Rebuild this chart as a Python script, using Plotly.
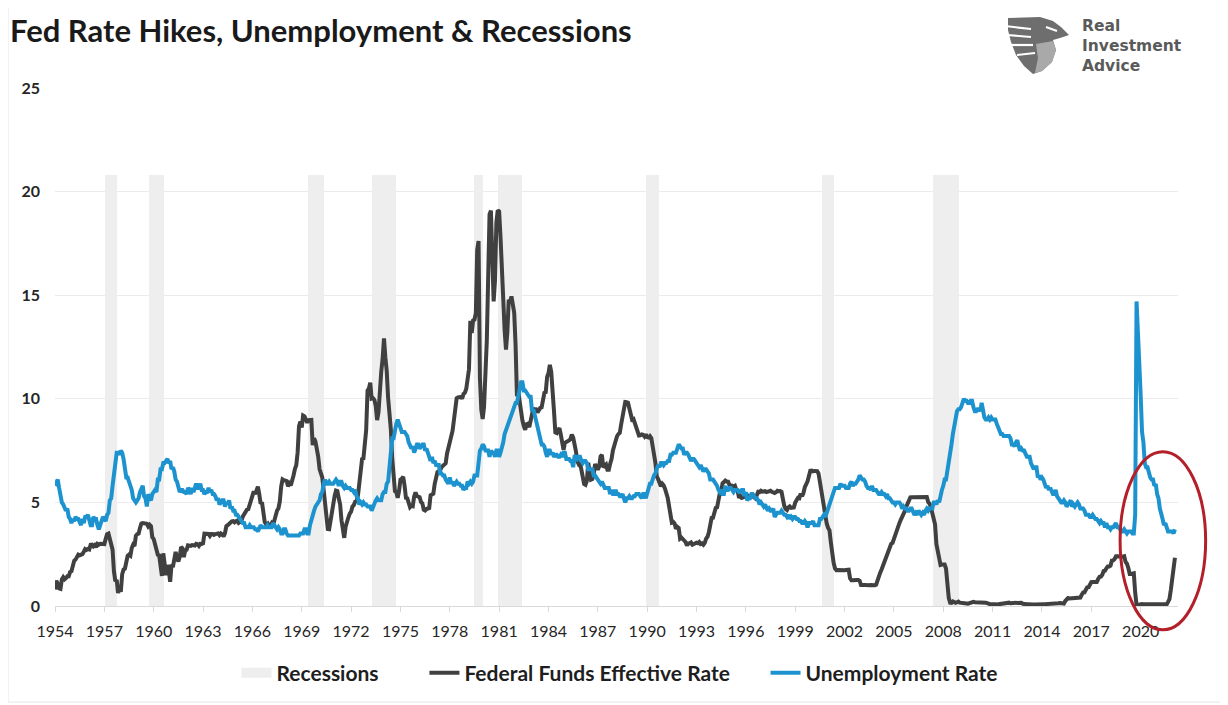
import plotly.graph_objects as go

# ---------------- data ----------------
title_text = "Fed Rate Hikes, Unemployment & Recessions"
logo_text = ["Real", "Investment", "Advice"]
series_start = (1954, 7)  # first monthly observation

fed_funds = [
    0.80, 1.22, 1.07, 0.85, 0.83, 1.28,                                  # 1954 H2
    1.39, 1.29, 1.35, 1.43, 1.43, 1.64, 1.68, 1.96, 2.18, 2.24, 2.35, 2.48,  # 1955
    2.45, 2.50, 2.50, 2.62, 2.75, 2.71, 2.75, 2.73, 2.95, 2.96, 2.88, 2.94,  # 1956
    2.84, 3.00, 2.96, 3.00, 3.00, 3.00, 2.99, 3.24, 3.47, 3.50, 3.28, 2.98,  # 1957
    2.72, 1.67, 1.20, 1.26, 0.63, 0.93, 0.68, 1.53, 1.76, 1.80, 2.27, 2.42,  # 1958
    2.48, 2.43, 2.80, 2.96, 2.90, 3.39, 3.47, 3.50, 3.76, 3.98, 4.00, 3.99,  # 1959
    3.99, 3.97, 3.84, 3.92, 3.85, 3.32, 3.23, 2.98, 2.60, 2.47, 2.44, 1.98,  # 1960
    1.45, 2.54, 2.02, 1.49, 1.98, 1.73, 1.17, 2.00, 1.88, 2.26, 2.61, 2.33,  # 1961
    2.15, 2.37, 2.85, 2.78, 2.36, 2.68, 2.71, 2.93, 2.90, 2.90, 2.94, 2.93,  # 1962
    2.92, 3.00, 2.98, 2.90, 3.00, 2.99, 3.02, 3.49, 3.48, 3.50, 3.48, 3.38,  # 1963
    3.48, 3.48, 3.43, 3.47, 3.50, 3.50, 3.42, 3.50, 3.45, 3.36, 3.52, 3.85,  # 1964
    3.90, 3.98, 4.04, 4.09, 4.10, 4.04, 4.09, 4.12, 4.01, 4.08, 4.10, 4.32,  # 1965
    4.42, 4.60, 4.65, 4.67, 4.90, 5.17, 5.30, 5.53, 5.40, 5.53, 5.76, 5.40,  # 1966
    4.94, 5.00, 4.53, 4.05, 3.94, 3.98, 3.79, 3.90, 3.99, 3.88, 4.13, 4.51,  # 1967
    4.61, 4.71, 5.05, 5.76, 6.11, 6.07, 6.02, 6.03, 5.78, 5.91, 5.82, 6.02,  # 1968
    6.30, 6.61, 6.79, 7.41, 8.67, 8.90, 8.61, 9.19, 9.15, 9.00, 8.85, 8.97,  # 1969
    8.98, 8.98, 7.76, 8.10, 7.94, 7.60, 7.21, 6.61, 6.29, 6.20, 5.60, 4.90,  # 1970
    4.14, 3.72, 3.71, 4.15, 4.63, 4.91, 5.31, 5.57, 5.55, 5.20, 4.91, 4.14,  # 1971
    3.50, 3.29, 3.83, 4.17, 4.27, 4.46, 4.55, 4.80, 4.87, 5.04, 5.06, 5.33,  # 1972
    5.94, 6.58, 7.09, 7.12, 7.84, 8.49, 10.40, 10.50, 10.78, 10.01, 10.03, 9.95,  # 1973
    9.65, 8.97, 9.35, 10.51, 11.31, 11.93, 12.92, 12.01, 11.34, 10.06, 9.45, 8.53,  # 1974
    7.13, 6.24, 5.54, 5.49, 5.22, 5.55, 6.10, 6.14, 6.24, 5.82, 5.22, 5.20,  # 1975
    4.87, 4.77, 4.84, 4.82, 5.29, 5.48, 5.31, 5.29, 5.25, 5.02, 4.95, 4.65,  # 1976
    4.61, 4.68, 4.69, 4.73, 5.35, 5.39, 5.42, 5.90, 6.14, 6.47, 6.51, 6.56,  # 1977
    6.70, 6.78, 6.79, 6.89, 7.36, 7.60, 7.81, 8.04, 8.45, 8.96, 9.76, 10.03,  # 1978
    10.07, 10.06, 10.09, 10.01, 10.24, 10.29, 10.47, 10.94, 11.43, 13.77, 13.18, 13.78,  # 1979
    13.82, 14.13, 17.19, 17.61, 10.98, 9.47, 9.03, 9.61, 10.87, 12.81, 15.85, 18.90,  # 1980
    19.08, 15.93, 14.70, 15.72, 18.52, 19.10, 19.04, 17.82, 15.87, 15.08, 13.31, 12.37,  # 1981
    13.22, 14.78, 14.68, 14.94, 14.45, 14.15, 12.59, 10.12, 10.31, 9.71, 9.20, 8.95,  # 1982
    8.68, 8.51, 8.77, 8.80, 8.63, 8.98, 9.37, 9.56, 9.45, 9.48, 9.34, 9.47,  # 1983
    9.56, 9.59, 9.91, 10.29, 10.32, 11.06, 11.23, 11.64, 11.30, 9.99, 9.43, 8.38,  # 1984
    8.35, 8.50, 8.58, 8.27, 7.97, 7.53, 7.88, 7.90, 7.92, 7.99, 8.05, 8.27,  # 1985
    8.14, 7.86, 7.48, 6.99, 6.85, 6.92, 6.56, 6.17, 5.89, 5.85, 6.04, 6.91,  # 1986
    6.43, 6.10, 6.13, 6.37, 6.85, 6.73, 6.58, 6.73, 7.22, 7.29, 6.69, 6.77,  # 1987
    6.83, 6.58, 6.58, 6.87, 7.09, 7.51, 7.75, 8.01, 8.19, 8.30, 8.35, 8.76,  # 1988
    9.12, 9.36, 9.85, 9.84, 9.81, 9.53, 9.24, 8.99, 9.02, 8.84, 8.55, 8.45,  # 1989
    8.23, 8.24, 8.28, 8.26, 8.18, 8.29, 8.15, 8.13, 8.20, 8.11, 7.81, 7.31,  # 1990
    6.91, 6.25, 6.12, 5.91, 5.78, 5.90, 5.82, 5.66, 5.45, 5.21, 4.81, 4.43,  # 1991
    4.03, 4.06, 3.98, 3.73, 3.82, 3.76, 3.25, 3.30, 3.22, 3.10, 3.09, 2.92,  # 1992
    3.02, 3.03, 3.07, 2.96, 3.00, 3.04, 3.06, 3.03, 3.09, 2.99, 3.02, 2.96,  # 1993
    3.05, 3.25, 3.34, 3.56, 4.01, 4.25, 4.26, 4.47, 4.73, 4.76, 5.29, 5.45,  # 1994
    5.53, 5.92, 5.98, 6.05, 6.01, 6.00, 5.85, 5.74, 5.80, 5.76, 5.80, 5.60,  # 1995
    5.56, 5.22, 5.31, 5.22, 5.24, 5.27, 5.40, 5.22, 5.30, 5.24, 5.31, 5.29,  # 1996
    5.25, 5.19, 5.39, 5.51, 5.50, 5.56, 5.52, 5.54, 5.54, 5.50, 5.52, 5.50,  # 1997
    5.56, 5.51, 5.49, 5.45, 5.49, 5.56, 5.54, 5.55, 5.51, 5.07, 4.83, 4.68,  # 1998
    4.63, 4.76, 4.81, 4.74, 4.74, 4.76, 4.99, 5.07, 5.22, 5.20, 5.42, 5.30,  # 1999
    5.45, 5.73, 5.85, 6.02, 6.27, 6.53, 6.54, 6.50, 6.52, 6.51, 6.51, 6.40,  # 2000
    5.98, 5.49, 5.31, 4.80, 4.21, 3.97, 3.77, 3.65, 3.07, 2.49, 2.09, 1.82,  # 2001
    1.73, 1.74, 1.73, 1.75, 1.75, 1.75, 1.73, 1.74, 1.75, 1.75, 1.34, 1.24,  # 2002
    1.24, 1.26, 1.25, 1.26, 1.26, 1.22, 1.01, 1.03, 1.01, 1.01, 1.00, 0.98,  # 2003
    1.00, 1.01, 1.00, 1.00, 1.00, 1.03, 1.26, 1.43, 1.61, 1.76, 1.93, 2.16,  # 2004
    2.28, 2.50, 2.63, 2.79, 3.00, 3.04, 3.26, 3.50, 3.62, 3.78, 4.00, 4.16,  # 2005
    4.29, 4.49, 4.59, 4.79, 4.94, 4.99, 5.24, 5.25, 5.25, 5.25, 5.25, 5.24,  # 2006
    5.25, 5.26, 5.26, 5.25, 5.25, 5.25, 5.26, 5.02, 4.94, 4.76, 4.49, 4.24,  # 2007
    3.94, 2.98, 2.61, 2.28, 1.98, 2.00, 2.01, 2.00, 1.81, 0.97, 0.39, 0.16,  # 2008
    0.15, 0.22, 0.18, 0.15, 0.18, 0.21, 0.16, 0.16, 0.15, 0.12, 0.12, 0.12,  # 2009
    0.11, 0.13, 0.16, 0.20, 0.20, 0.18, 0.18, 0.19, 0.19, 0.19, 0.19, 0.18,  # 2010
    0.17, 0.16, 0.14, 0.10, 0.09, 0.09, 0.07, 0.10, 0.08, 0.07, 0.08, 0.07,  # 2011
    0.08, 0.10, 0.13, 0.14, 0.16, 0.16, 0.16, 0.13, 0.14, 0.16, 0.16, 0.16,  # 2012
    0.14, 0.15, 0.14, 0.15, 0.11, 0.09, 0.09, 0.08, 0.08, 0.09, 0.08, 0.09,  # 2013
    0.07, 0.07, 0.08, 0.09, 0.09, 0.10, 0.09, 0.09, 0.09, 0.09, 0.09, 0.12,  # 2014
    0.11, 0.11, 0.11, 0.12, 0.12, 0.13, 0.13, 0.14, 0.14, 0.12, 0.12, 0.24,  # 2015
    0.34, 0.38, 0.36, 0.37, 0.37, 0.38, 0.39, 0.40, 0.40, 0.40, 0.41, 0.54,  # 2016
    0.65, 0.66, 0.79, 0.90, 0.91, 1.04, 1.15, 1.16, 1.15, 1.15, 1.16, 1.30,  # 2017
    1.41, 1.42, 1.51, 1.69, 1.70, 1.82, 1.91, 1.91, 1.95, 2.19, 2.20, 2.27,  # 2018
    2.40, 2.40, 2.41, 2.42, 2.39, 2.38, 2.40, 2.13, 2.04, 1.83, 1.55, 1.55,  # 2019
    1.55, 1.58, 0.65, 0.05, 0.05, 0.08, 0.09, 0.10, 0.09, 0.09, 0.09, 0.09,  # 2020
    0.09, 0.08, 0.07, 0.07, 0.06, 0.08, 0.10, 0.09, 0.08, 0.08, 0.08, 0.08,  # 2021
    0.08, 0.08, 0.20, 0.33, 0.77, 1.21, 1.68, 2.33,                          # 2022
]

unemployment = [
    5.8, 6.0, 6.1, 5.7, 5.3, 5.0,                                        # 1954 H2
    4.9, 4.7, 4.6, 4.7, 4.3, 4.2, 4.0, 4.2, 4.1, 4.3, 4.2, 4.2,          # 1955
    4.0, 3.9, 4.2, 4.0, 4.3, 4.3, 4.4, 4.1, 3.9, 3.9, 4.3, 4.2,          # 1956
    4.2, 3.9, 3.7, 3.9, 4.1, 4.3, 4.2, 4.1, 4.4, 4.5, 5.1, 5.2,          # 1957
    5.8, 6.4, 6.7, 7.4, 7.4, 7.3, 7.5, 7.4, 7.1, 6.7, 6.2, 6.2,          # 1958
    6.0, 5.9, 5.6, 5.2, 5.1, 5.0, 5.1, 5.2, 5.5, 5.7, 5.8, 5.3,          # 1959
    5.2, 4.8, 5.4, 5.2, 5.1, 5.4, 5.5, 5.6, 5.5, 6.1, 6.1, 6.6,          # 1960
    6.6, 6.9, 6.9, 7.0, 7.1, 6.9, 7.0, 6.6, 6.7, 6.5, 6.1, 6.0,          # 1961
    5.8, 5.5, 5.6, 5.6, 5.5, 5.5, 5.4, 5.7, 5.6, 5.4, 5.7, 5.5,          # 1962
    5.7, 5.9, 5.7, 5.7, 5.9, 5.6, 5.6, 5.4, 5.5, 5.5, 5.7, 5.5,          # 1963
    5.6, 5.4, 5.4, 5.3, 5.1, 5.2, 4.9, 5.0, 5.1, 5.1, 4.8, 5.0,          # 1964
    4.9, 5.1, 4.7, 4.8, 4.6, 4.6, 4.4, 4.4, 4.3, 4.2, 4.1, 4.0,          # 1965
    4.0, 3.8, 3.8, 3.8, 3.9, 3.8, 3.8, 3.8, 3.7, 3.7, 3.6, 3.8,          # 1966
    3.9, 3.8, 3.8, 3.8, 3.8, 3.9, 3.8, 3.8, 3.8, 4.0, 3.9, 3.8,          # 1967
    3.7, 3.8, 3.7, 3.5, 3.5, 3.7, 3.7, 3.5, 3.4, 3.4, 3.4, 3.4,          # 1968
    3.4, 3.4, 3.4, 3.4, 3.4, 3.5, 3.5, 3.5, 3.7, 3.7, 3.5, 3.5,          # 1969
    3.9, 4.2, 4.4, 4.6, 4.8, 4.9, 5.0, 5.1, 5.4, 5.5, 5.9, 6.1,          # 1970
    5.9, 5.9, 6.0, 5.9, 5.9, 5.9, 6.0, 6.1, 6.0, 5.8, 6.0, 6.0,          # 1971
    5.8, 5.7, 5.8, 5.7, 5.7, 5.7, 5.6, 5.6, 5.5, 5.6, 5.3, 5.2,          # 1972
    4.9, 5.0, 4.9, 5.0, 4.9, 4.9, 4.8, 4.8, 4.8, 4.6, 4.8, 4.9,          # 1973
    5.1, 5.2, 5.1, 5.1, 5.1, 5.4, 5.5, 5.5, 5.9, 6.0, 6.6, 7.2,          # 1974
    8.1, 8.1, 8.6, 8.8, 9.0, 8.8, 8.6, 8.4, 8.4, 8.4, 8.3, 8.2,          # 1975
    7.9, 7.7, 7.6, 7.7, 7.4, 7.6, 7.8, 7.8, 7.6, 7.7, 7.8, 7.8,          # 1976
    7.5, 7.6, 7.4, 7.2, 7.0, 7.2, 6.9, 7.0, 6.8, 6.8, 6.8, 6.4,          # 1977
    6.4, 6.3, 6.3, 6.1, 6.0, 5.9, 6.2, 5.9, 6.0, 5.8, 5.9, 6.0,          # 1978
    5.9, 5.9, 5.8, 5.8, 5.6, 5.7, 5.7, 6.0, 5.9, 6.0, 5.9, 6.0,          # 1979
    6.3, 6.3, 6.3, 6.9, 7.5, 7.6, 7.8, 7.7, 7.5, 7.5, 7.5, 7.2,          # 1980
    7.5, 7.4, 7.4, 7.2, 7.5, 7.5, 7.2, 7.4, 7.6, 7.9, 8.3, 8.5,          # 1981
    8.6, 8.9, 9.0, 9.3, 9.4, 9.6, 9.8, 9.8, 10.1, 10.4, 10.8, 10.8,      # 1982
    10.4, 10.4, 10.3, 10.2, 10.1, 10.1, 9.4, 9.5, 9.2, 8.8, 8.5, 8.3,    # 1983
    8.0, 7.8, 7.8, 7.7, 7.4, 7.2, 7.5, 7.5, 7.3, 7.4, 7.2, 7.3,          # 1984
    7.3, 7.2, 7.2, 7.3, 7.2, 7.4, 7.4, 7.1, 7.1, 7.1, 7.0, 7.0,          # 1985
    6.7, 7.2, 7.2, 7.1, 7.2, 7.2, 7.0, 6.9, 7.0, 7.0, 6.9, 6.6,          # 1986
    6.6, 6.6, 6.6, 6.3, 6.3, 6.2, 6.1, 6.0, 5.9, 6.0, 5.8, 5.7,          # 1987
    5.7, 5.7, 5.7, 5.4, 5.6, 5.4, 5.4, 5.6, 5.4, 5.4, 5.3, 5.3,          # 1988
    5.4, 5.2, 5.0, 5.2, 5.2, 5.3, 5.2, 5.2, 5.3, 5.3, 5.4, 5.4,          # 1989
    5.4, 5.3, 5.2, 5.4, 5.4, 5.2, 5.5, 5.7, 5.9, 5.9, 6.2, 6.3,          # 1990
    6.4, 6.6, 6.8, 6.7, 6.9, 6.9, 6.8, 6.9, 6.9, 7.0, 7.0, 7.3,          # 1991
    7.3, 7.4, 7.4, 7.4, 7.6, 7.8, 7.7, 7.6, 7.6, 7.3, 7.4, 7.4,          # 1992
    7.3, 7.1, 7.0, 7.1, 7.1, 7.0, 6.9, 6.8, 6.7, 6.8, 6.6, 6.5,          # 1993
    6.6, 6.6, 6.5, 6.4, 6.1, 6.1, 6.1, 6.0, 5.9, 5.8, 5.6, 5.5,          # 1994
    5.6, 5.4, 5.4, 5.8, 5.6, 5.6, 5.7, 5.7, 5.6, 5.5, 5.6, 5.6,          # 1995
    5.6, 5.5, 5.5, 5.6, 5.6, 5.3, 5.5, 5.1, 5.2, 5.2, 5.4, 5.4,          # 1996
    5.3, 5.2, 5.2, 5.1, 4.9, 5.0, 4.9, 4.8, 4.9, 4.7, 4.6, 4.7,          # 1997
    4.6, 4.6, 4.7, 4.3, 4.4, 4.5, 4.5, 4.5, 4.6, 4.5, 4.4, 4.4,          # 1998
    4.3, 4.4, 4.2, 4.3, 4.2, 4.3, 4.3, 4.2, 4.2, 4.1, 4.1, 4.0,          # 1999
    4.0, 4.1, 4.0, 3.8, 4.0, 4.0, 4.0, 4.1, 3.9, 3.9, 3.9, 3.9,          # 2000
    4.2, 4.2, 4.3, 4.4, 4.3, 4.5, 4.6, 4.9, 5.0, 5.3, 5.5, 5.7,          # 2001
    5.7, 5.7, 5.7, 5.9, 5.8, 5.8, 5.8, 5.7, 5.7, 5.7, 5.9, 6.0,          # 2002
    5.8, 5.9, 5.9, 6.0, 6.1, 6.3, 6.2, 6.1, 6.1, 6.0, 5.8, 5.7,          # 2003
    5.7, 5.6, 5.8, 5.6, 5.6, 5.6, 5.5, 5.4, 5.4, 5.5, 5.4, 5.4,          # 2004
    5.3, 5.4, 5.2, 5.2, 5.1, 5.0, 5.0, 4.9, 5.0, 5.0, 5.0, 4.9,          # 2005
    4.7, 4.8, 4.7, 4.7, 4.6, 4.6, 4.7, 4.7, 4.5, 4.4, 4.5, 4.4,          # 2006
    4.6, 4.5, 4.4, 4.5, 4.4, 4.6, 4.7, 4.6, 4.7, 4.7, 4.7, 5.0,          # 2007
    5.0, 4.9, 5.1, 5.0, 5.4, 5.6, 5.8, 6.1, 6.1, 6.5, 6.8, 7.3,          # 2008
    7.8, 8.3, 8.7, 9.0, 9.4, 9.5, 9.5, 9.6, 9.8, 10.0, 9.9, 9.9,         # 2009
    9.8, 9.8, 9.9, 9.9, 9.6, 9.4, 9.4, 9.5, 9.5, 9.4, 9.8, 9.3,          # 2010
    9.1, 9.0, 9.0, 9.1, 9.0, 9.1, 9.0, 9.0, 9.0, 8.8, 8.6, 8.5,          # 2011
    8.3, 8.3, 8.2, 8.2, 8.2, 8.2, 8.2, 8.1, 7.8, 7.8, 7.7, 7.9,          # 2012
    8.0, 7.7, 7.5, 7.6, 7.5, 7.5, 7.3, 7.2, 7.2, 7.2, 6.9, 6.7,          # 2013
    6.6, 6.7, 6.7, 6.2, 6.3, 6.1, 6.2, 6.1, 5.9, 5.7, 5.8, 5.6,          # 2014
    5.7, 5.5, 5.4, 5.4, 5.6, 5.3, 5.2, 5.1, 5.0, 5.0, 5.1, 5.0,          # 2015
    4.8, 4.9, 5.0, 5.1, 4.8, 4.9, 4.8, 4.9, 5.0, 4.9, 4.7, 4.7,          # 2016
    4.7, 4.6, 4.4, 4.4, 4.4, 4.3, 4.3, 4.4, 4.3, 4.2, 4.2, 4.1,          # 2017
    4.0, 4.1, 4.0, 4.0, 3.8, 4.0, 3.8, 3.8, 3.7, 3.8, 3.8, 3.9,          # 2018
    4.0, 3.8, 3.8, 3.7, 3.6, 3.6, 3.7, 3.6, 3.5, 3.6, 3.6, 3.6,          # 2019
    3.5, 3.5, 4.4, 14.7, 13.2, 11.0, 10.2, 8.4, 7.9, 6.9, 6.7, 6.7,      # 2020
    6.4, 6.2, 6.1, 6.1, 5.8, 5.9, 5.4, 5.2, 4.7, 4.5, 4.2, 3.9,          # 2021
    4.0, 3.8, 3.6, 3.6, 3.6, 3.6, 3.5, 3.7,                              # 2022
]

recession_start = ["1957-08", "1960-04", "1969-12", "1973-11", "1980-01",
                   "1981-07", "1990-07", "2001-03", "2007-12"]
recession_end = ["1958-04", "1961-02", "1970-11", "1975-03", "1980-07",
                 "1982-11", "1991-03", "2001-11", "2009-06"]
recession_height = 20.8

tick_labels = ["1954", "1957", "1960", "1963", "1966", "1969", "1972", "1975",
               "1978", "1981", "1984", "1987", "1990", "1993", "1996", "1999",
               "2002", "2005", "2008", "2011", "2014", "2017", "2020"]
y_ticks = [0, 5, 10, 15, 20, 25]

legend_names = ["Recessions", "Federal Funds Effective Rate", "Unemployment Rate"]

# ---------------- helpers ----------------
def frac_year(ym):
    y, m = ym.split("-")
    return int(y) + (int(m) - 1) / 12.0

def month_axis(n):
    y0, m0 = series_start
    return [y0 + (m0 - 1 + i) / 12.0 for i in range(n)]

# The page body adds an 8px offset; figure is sized to fill the remaining window.
OFF = 8
W, H = 1228 - OFF, 705 - OFF
ML, MR, MT, MB = 47, 50, 80, 99
PW, PH = W - ML - MR, H - MT - MB
X_RANGE = [1954.5, 2022.77]
Y_RANGE = [0, 25]

def px_x(px):   # window pixel -> paper
    return (px - OFF - ML) / PW

def px_y(py):
    return (H - MB - (py - OFF)) / PH

def cx(px):     # window pixel -> container fraction
    return (px - OFF) / W

def cy(py):
    return 1 - (py - OFF) / H

def data_x(v):  # data -> paper
    return (v - X_RANGE[0]) / (X_RANGE[1] - X_RANGE[0])

def data_y(v):
    return (v - Y_RANGE[0]) / (Y_RANGE[1] - Y_RANGE[0])

FONT = "Lato, 'Open Sans', Arial, sans-serif"
GREY_LINE = "#404040"
BLUE_LINE = "#1C93CF"
REC_FILL = "#EEEEEE"
NB = "\u00a0"

fig = go.Figure()

rs = [frac_year(s) - 1 / 24 for s in recession_start]
re_ = [frac_year(e) + 1 / 24 for e in recession_end]
fig.add_trace(go.Bar(
    x=[(a + b) / 2 for a, b in zip(rs, re_)],
    y=[recession_height] * len(rs),
    width=[b - a for a, b in zip(rs, re_)],
    marker=dict(color=REC_FILL, line=dict(width=0)),
    showlegend=False, hoverinfo="skip", name=legend_names[0],
))
# legend entry for recessions (wide grey swatch like the original)
fig.add_trace(go.Scatter(
    x=[None], y=[None], mode="lines", name=legend_names[0] + NB * 8,
    line=dict(color=REC_FILL, width=12),
))
fig.add_trace(go.Scatter(
    x=month_axis(len(fed_funds)), y=fed_funds, mode="lines",
    name=legend_names[1] + NB * 6,
    line=dict(color=GREY_LINE, width=4),
))
fig.add_trace(go.Scatter(
    x=month_axis(len(unemployment)), y=unemployment, mode="lines",
    name=legend_names[2],
    line=dict(color=BLUE_LINE, width=4),
))

shapes = []
# outer faint frame
shapes.append(dict(type="rect", xref="paper", yref="paper",
                   x0=px_x(8), x1=px_x(1224), y0=px_y(702), y1=px_y(6),
                   line=dict(color="#E6E6E6", width=1), layer="below"))
# red ellipse highlighting the latest period
ell_x = [2019.25, 2024.45]
ell_y = [-1.15, 7.45]
shapes.append(dict(type="circle", xref="paper", yref="paper",
                   x0=data_x(ell_x[0]), x1=data_x(ell_x[1]),
                   y0=data_y(ell_y[0]), y1=data_y(ell_y[1]),
                   line=dict(color="#B3202A", width=3), layer="above"))

# logo (eagle shield)
def path_from(points):
    s = "M " + " L ".join(f"{px_x(x):.5f},{px_y(y):.5f}" for x, y in points)
    return s + " Z"

eagle = [(1008, 18), (1040, 17), (1053, 21), (1061, 27), (1069, 35), (1060, 38),
         (1053, 40), (1056, 50), (1052, 62), (1042, 71), (1033, 74), (1024, 66),
         (1016, 55), (1011, 42), (1008, 30)]
shapes.append(dict(type="path", xref="paper", yref="paper", path=path_from(eagle),
                   fillcolor="#6E6E6E", line=dict(width=0)))
inner = [(1036, 44), (1053, 41), (1056, 50), (1052, 62), (1042, 71), (1035, 73), (1038, 58)]
shapes.append(dict(type="path", xref="paper", yref="paper", path=path_from(inner),
                   fillcolor="#A9A9A9", line=dict(width=0)))
for (x0, y0, x1, y1) in [(1005, 26, 1031, 29), (1007, 35, 1031, 37),
                         (1011, 45, 1033, 45), (1017, 55, 1035, 53),
                         (1046, 27, 1057, 31)]:
    shapes.append(dict(type="line", xref="paper", yref="paper",
                       x0=px_x(x0), y0=px_y(y0), x1=px_x(x1), y1=px_y(y1),
                       line=dict(color="white", width=2.2)))

# logo wordmark as one multi-line text block
annotations = [dict(text="<br>".join(logo_text), xref="paper", yref="paper",
                    x=px_x(1080), y=px_y(46), xanchor="left", yanchor="middle",
                    align="left", showarrow=False,
                    font=dict(family="'DejaVu Sans', Arial, sans-serif",
                              size=15.5, color="#5A5A5A", weight="bold"))]

fig.update_layout(
    width=W, height=H,
    margin=dict(l=ML, r=MR, t=MT, b=MB, pad=0),
    paper_bgcolor="white", plot_bgcolor="white",
    font=dict(family=FONT, color="#262626"),
    title=dict(text=title_text, xref="container", yref="container",
               x=cx(10), xanchor="left", y=cy(31), yanchor="middle",
               font=dict(family=FONT, size=31, color="#1A1A1A", weight="bold")),
    bargap=0,
    showlegend=True,
    legend=dict(orientation="h", xref="container", yref="container",
                x=cx(620), xanchor="center", y=cy(673), yanchor="middle",
                font=dict(family=FONT, size=21, color="#1E1E1E", weight="bold"),
                traceorder="normal", bgcolor="rgba(0,0,0,0)", itemwidth=30),
    shapes=shapes,
    annotations=annotations,
    hovermode=False,
)
fig.update_xaxes(range=X_RANGE, tickmode="array",
                 tickvals=[int(t) + 0.5 for t in tick_labels], ticktext=tick_labels,
                 showgrid=False, zeroline=False, showline=True,
                 linecolor="#D9D9D9", linewidth=1,
                 ticks="outside", ticklen=5, tickcolor="#D9D9D9",
                 tickfont=dict(family=FONT, size=16, color="#262626"),
                 ticklabelstandoff=6)
fig.update_yaxes(range=Y_RANGE, tickvals=y_ticks, showgrid=True,
                 gridcolor="#EBEBEB", gridwidth=1, zeroline=False,
                 showline=False, ticks="",
                 tickfont=dict(family=FONT, size=16, color="#262626", weight="bold"),
                 ticklabelstandoff=14)

fig.write_html("out.html")
